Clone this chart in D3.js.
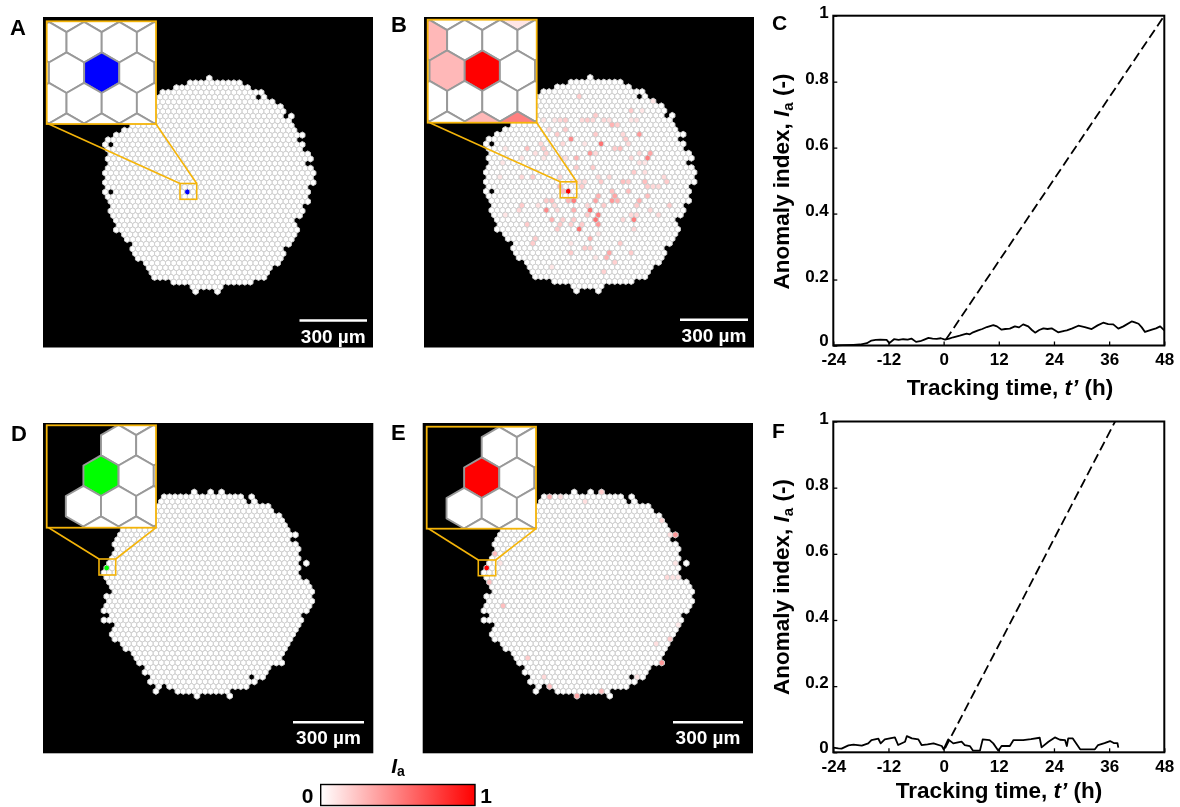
<!DOCTYPE html>
<html>
<head>
<meta charset="utf-8">
<script src="https://cdn.jsdelivr.net/npm/d3@7"></script>
<style>
  html, body { margin: 0; padding: 0; background: #fff; }
  svg { display: block; }
  text { font-family: "Liberation Sans", Arial, sans-serif; font-weight: bold; fill: #000; }
</style>
</head>
<body>
<svg id="chart" width="1180" height="807"></svg>
<script>
// ---- DATA ----
// hexagon lattice, one entry per row, each row is a list of [first column, last column] runs
const colonyAB = [
  [[4,4]], [[0,9]], [[-2,11]], [[-5,13]], [[-6,12],[14,14]], [[-6,15]], [[-6,17]], [[-7,17]], [[-7,17],[19,19]], [[-9,18]],
  [[-10,19]], [[-12,19]], [[-13,21]], [[-15,19]], [[-15,-15],[-13,21]], [[-15,20]], [[-14,22]], [[-15,22]], [[-14,21]], [[-15,22]],
  [[-15,23]], [[-15,22]], [[-15,23]], [[-15,21]], [[-15,-15],[-13,22]], [[-15,21]], [[-14,22]], [[-14,20]], [[-14,21]], [[-14,20]],
  [[-13,19]], [[-13,19]], [[-13,20]], [[-12,19]], [[-11,19]], [[-10,18]], [[-10,17]], [[-10,17]], [[-9,17]], [[-8,16]],
  [[-7,15]], [[-7,14]], [[-6,14]], [[-3,11]], [[1,6]], [[1,1],[5,5]]
];
const colonyDE = [
  [[16,16],[19,19],[21,21]], [[10,24],[26,26]], [[10,25],[27,27]], [[8,29]], [[7,30]], [[6,31]], [[5,32]], [[4,32]], [[3,33]], [[2,34]],
  [[2,33]], [[1,34]], [[2,35]], [[1,34]], [[1,35]], [[0,34],[36,36]], [[0,35]], [[-1,34]], [[0,35]], [[0,36]],
  [[1,37]], [[1,37]], [[0,37]], [[0,37]], [[0,37]], [[-1,36]], [[1,35]], [[-1,35]], [[2,35]], [[1,34]],
  [[1,34]], [[1,33]], [[3,33]], [[3,32]], [[5,32]], [[5,31]], [[6,32]], [[7,29]], [[7,29]], [[8,25],[27,28]],
  [[8,27]], [[9,9],[11,25]], [[9,9],[13,21],[22,22]], [[16,16],[22,22]]
];
const trackedAB = [24, 0];
const trackedDE = [16, 0];

// [row, column, Ia] for the cells that are tinted
const anomalyB = [
  [14,6,.55],[17,14,.5],[12,13,.4],[13,0,.45],[16,4,.4],[16,15,.35],[15,-8,.25],[28,-4,.45],[28,4,.55],[29,5,.5],
  [30,5,.55],[31,5,.4],[32,2,.55],[30,12,.5],[10,8,.3],[7,11,.2],[8,5,.2],[9,-1,.2],[9,3,.2],[17,1,.3],
  [19,1,.2],[19,4,.2],[26,8,.4],[25,5,.3],[26,5,.35],[24,11,.25],[26,13,.3],[25,14,.25],[28,1,.3],[30,-3,.3],
  [31,-8,.2],[31,-2,.2],[34,4,.3],[37,7,.35],[38,7,.3],[35,9,.2],[34,-6,.2],[35,-7,.2],[37,0,.2],[36,3,.2],
  [36,4,.18],[37,11,.2],[39,8,.18],[41,6,.18],[40,-3,.1],[38,5,.1],[27,18,.2],[22,18,.2],[21,17,.15],[22,14,.25],
  [23,14,.2],[23,16,.15],[23,15,.15],[22,11,.2],[22,10,.25],[15,8,.2],[15,9,.25],[17,11,.15],[16,13,.15],[16,5,.15],
  [14,3,.1],[4,2,.2],[5,15,.1],[7,13,.1],[12,-2,.2],[9,-3,.1],[9,-2,.15],[9,-5,.1],[11,-4,.15],[11,-1,.2],
  [9,2,.15],[9,4,.15],[9,6,.15],[9,7,.12],[9,11,.1],[9,12,.12],[10,9,.2],[12,5,.2],[12,10,.15],[13,10,.2],
  [14,11,.15],[14,-5,.15],[15,-5,.2],[16,-4,.18],[16,-6,.12],[14,-1,.15],[17,-1,.12],[17,-2,.12],[17,-5,.1],[17,-9,.1],
  [18,-12,.1],[21,-13,.1],[21,-7,.2],[21,-9,.15],[15,-12,.1],[21,-2,.15],[22,3,.15],[22,2,.12],[23,2,.2],[22,6,.2],
  [21,7,.15],[21,5,.15],[20,12,.2],[20,14,.12],[18,14,.1],[18,13,.12],[24,8,.25],[25,8,.35],[26,9,.3],[27,6,.2],
  [29,11,.15],[29,12,.15],[27,12,.2],[28,15,.15],[29,16,.15],[30,10,.15],[32,12,.15],[26,-3,.25],[26,-4,.2],[27,-6,.12],
  [27,-9,.2],[28,-9,.15],[29,-12,.1],[27,-3,.15],[28,-2,.15],[29,3,.2],[30,1,.2],[31,0,.18],[31,2,.2],[30,-1,.18],
  [32,-2,.2],[27,3,.15],[35,0,.1],[33,5,.1],[24,-1,.28],[23,-2,.28],[22,1,.1],[26,0,.28],[26,1,.5]
];
const anomalyE = [
  [1,11,.3],[1,13,.12],[2,18,.12],[6,32,.15],[9,33,.12],[9,34,.4],[15,34,.1],[18,33,.15],[18,35,.1],[18,34,.1],
  [13,1,.25],[15,2,.1],[19,0,.25],[24,3,.25],[35,7,.2],[39,10,.15],[41,11,.25],[43,16,.35],[42,21,.25],[0,21,.2],
  [32,31,.12],[31,33,.2],[36,32,.4],[39,27,.1],[28,35,.08]
];

const timeTicks = [-24, -12, 0, 12, 24, 36, 48];
const indexTicks = [0, 0.2, 0.4, 0.6, 0.8, 1];

const timeC = [-24,-22,-19.6,-18.2,-16.7,-15.7,-14.8,-13.8,-12.4,-11.8,-10.8,-9.8,-8.8,-7.8,-7,-6,-5.1,-4.2,-3.3,-2.4,-1.5,-.6,.3,1.2,2.1,3.5,5,5.7,6.4,7.5,8.4,9.4,10.8,11.6,12.6,13.4,14.4,15.5,16.4,17.3,18.4,19.2,19.9,20.8,21.7,22.6,23.5,24.9,25.8,26.8,28,29.3,30.7,32.2,33.5,34.7,35.8,36.9,38,39.1,40.9,41.6,42.4,43.1,43.8,45.3,46.2,47.1,48];
const valueC = [0,.001,.002,.003,.007,.015,.017,.018,.017,.007,.019,.017,.019,.018,.021,.011,.013,.018,.023,.021,.02,.022,.018,.021,.025,.03,.036,.034,.04,.046,.05,.056,.062,.058,.048,.05,.051,.058,.055,.064,.058,.047,.039,.047,.052,.05,.052,.04,.043,.046,.052,.06,.056,.05,.061,.069,.065,.064,.051,.058,.073,.07,.066,.055,.041,.048,.052,.058,.046];
const dashTimeC = [0.5, 48];
const dashValueC = [0.018, 1];

const timeF = [-24,-22.9,-22.2,-20.7,-19.6,-17.8,-16.4,-15.7,-14.2,-13.7,-12.8,-10.6,-9.9,-8.4,-8,-6.9,-5.5,-4.8,-3.5,-2.2,-.4,0,1,2.1,3.9,4.6,5.7,6.4,7.9,8.5,10,10.8,11.9,12.6,14.4,15.2,17.3,19,20.9,21.3,22.8,24.2,25.3,26.4,26.8,27.1,28.1,29.7,32.9,33.6,35,36.2,37,37.8,38];
const valueF = [.014,.012,.011,.021,.023,.02,.027,.037,.041,.027,.039,.045,.022,.032,.049,.042,.039,.022,.024,.027,.019,.009,.039,.027,.032,.022,.019,.005,.005,.039,.037,.027,.005,.019,.019,.037,.037,.04,.044,.015,.032,.045,.038,.037,.019,.042,.042,.009,.009,.022,.028,.034,.028,.028,.014];
const dashTimeF = [0.3, 37.3];
const dashValueF = [0.012, 1];

// ---- LAYOUT ----
const svg = d3.select('#chart');
const gold = '#f4b409';
const cellWidth = 5.47;
const rowStep = 4.74;
const insetZoom = 6.43;
const hexPath = r => d3.range(6).map(i => {
  const a = Math.PI / 3 * i + Math.PI / 6;
  return [r * Math.cos(a), r * Math.sin(a)];
});
const indexColor = d3.scaleLinear().domain([0, 1]).range(['#ffffff', '#ff0000']);
let clipCount = 0;

function drawCells(g, rows, anomalies, tracked, trackedColor, cx, cy, zoom, strokeColor, strokeWidth) {
  const colX = d3.scaleLinear().domain([tracked[1], tracked[1] + 1]).range([cx, cx + cellWidth * zoom]);
  const rowY = d3.scaleLinear().domain([tracked[0], tracked[0] + 1]).range([cy, cy + rowStep * zoom]);
  const tint = new Map(anomalies.map(a => [a[0] + '_' + a[1], a[2]]));
  const cells = [];
  rows.forEach((runs, r) => {
    runs.forEach(run => {
      d3.range(run[0], run[1] + 1).forEach(c => cells.push({ r: r, c: c }));
    });
  });
  const radius = cellWidth * zoom / Math.sqrt(3);
  const corners = hexPath(radius);
  g.selectAll('path.cell')
    .data(cells)
    .enter()
    .append('path')
    .attr('class', 'cell')
    .attr('d', 'M' + corners.join('L') + 'Z')
    .attr('transform', d => `translate(${colX(d.c + (d.r % 2) / 2)},${rowY(d.r)})`)
    .attr('fill', d => {
      if (d.r === tracked[0] && d.c === tracked[1]) return trackedColor;
      const v = tint.get(d.r + '_' + d.c);
      return v ? indexColor(v) : '#ffffff';
    })
    .attr('stroke', strokeColor)
    .attr('stroke-width', strokeWidth)
    .attr('stroke-linejoin', 'round');
}

function colonyPanel(p) {
  const g = svg.append('g');
  g.append('rect').attr('x', p.left).attr('y', p.top).attr('width', p.right - p.left).attr('height', p.bottom - p.top).attr('fill', '#000');

  drawCells(g.append('g').attr('filter', 'url(#soft)'), p.rows, p.anomalies, p.tracked, p.color, p.cell[0], p.cell[1], 1, '#d0d0d0', 1);

  // connector lines, then the small box
  g.append('line').attr('x1', p.inset[0] + 2).attr('y1', p.inset[3]).attr('x2', p.box[0]).attr('y2', p.box[1]).attr('stroke', gold).attr('stroke-width', 1.6);
  g.append('line').attr('x1', p.inset[2]).attr('y1', p.inset[3]).attr('x2', p.box[2]).attr('y2', p.box[1]).attr('stroke', gold).attr('stroke-width', 1.6);
  g.append('rect').attr('x', p.box[0]).attr('y', p.box[1]).attr('width', p.box[2] - p.box[0]).attr('height', p.box[3] - p.box[1])
    .attr('fill', 'none').attr('stroke', gold).attr('stroke-width', 1.6);

  // zoomed inset
  const id = 'clip' + (clipCount++);
  svg.append('clipPath').attr('id', id).append('rect')
    .attr('x', p.inset[0]).attr('y', p.inset[1]).attr('width', p.inset[2] - p.inset[0]).attr('height', p.inset[3] - p.inset[1]);
  g.append('rect').attr('x', p.inset[0]).attr('y', p.inset[1]).attr('width', p.inset[2] - p.inset[0]).attr('height', p.inset[3] - p.inset[1]).attr('fill', '#000');
  const ig = g.append('g').attr('clip-path', `url(#${id})`).append('g').attr('filter', 'url(#softer)');
  drawCells(ig, p.rows, p.anomalies, p.tracked, p.color, p.insetCell[0], p.insetCell[1], insetZoom, '#999999', 1.9);
  g.append('rect').attr('x', p.inset[0]).attr('y', p.inset[1]).attr('width', p.inset[2] - p.inset[0]).attr('height', p.inset[3] - p.inset[1])
    .attr('fill', 'none').attr('stroke', gold).attr('stroke-width', 1.8);

  // scale bar
  const um = d3.scaleLinear().domain([0, 300]).range([p.bar[0], p.bar[1]]);
  g.append('line').attr('x1', um(0)).attr('x2', um(300)).attr('y1', p.bar[2]).attr('y2', p.bar[2]).attr('stroke', '#fff').attr('stroke-width', 2.6);
  g.append('text').attr('x', (um(0) + um(300)) / 2).attr('y', p.bar[2] + 22).attr('text-anchor', 'middle')
    .attr('font-size', 19).style('fill', '#fff').text('300 µm');

  svg.append('text').attr('x', p.letter[0]).attr('y', p.letter[1]).attr('font-size', 22).text(p.name);
}

function linePanel(p) {
  const x = d3.scaleLinear().domain([-24, 48]).range([p.left, p.right]);
  const y = d3.scaleLinear().domain([0, 1]).range([p.bottom, p.top]);
  const g = svg.append('g');
  const line = d3.line().x(d => x(d[0])).y(d => y(d[1]));

  g.append('path').datum(d3.zip(p.dashTime, p.dashValue)).attr('d', line)
    .attr('fill', 'none').attr('stroke', '#000').attr('stroke-width', 1.8).attr('stroke-dasharray', '9.5,4.5');
  g.append('path').datum(d3.zip(p.time, p.value)).attr('d', line)
    .attr('fill', 'none').attr('stroke', '#000').attr('stroke-width', 1.8).attr('stroke-linejoin', 'round');

  const xAxis = g.append('g').attr('transform', `translate(0,${p.bottom})`)
    .call(d3.axisBottom(x).tickValues(timeTicks).tickFormat(d => String(d)).tickSize(-4).tickPadding(5));
  const yAxis = g.append('g').attr('transform', `translate(${p.left},0)`)
    .call(d3.axisLeft(y).tickValues(indexTicks).tickFormat(d => String(d)).tickSize(-4).tickPadding(4.5));
  [xAxis, yAxis].forEach(a => {
    a.select('.domain').remove();
    a.selectAll('line').attr('stroke', '#000').attr('stroke-width', 1.3);
    a.selectAll('text').attr('font-size', 17).attr('font-family', null);
  });
  xAxis.selectAll('text').attr('dy', '0.85em');
  yAxis.selectAll('text').attr('dy', d => d === 0 ? '0em' : '0.1em');

  g.append('rect').attr('x', p.left).attr('y', p.top).attr('width', p.right - p.left).attr('height', p.bottom - p.top)
    .attr('fill', 'none').attr('stroke', '#000').attr('stroke-width', 2);

  const xt = svg.append('text').attr('x', p.xTitle[0]).attr('y', p.xTitle[1]).attr('text-anchor', 'middle').attr('font-size', 22.5);
  xt.append('tspan').text('Tracking time, ');
  xt.append('tspan').attr('font-style', 'italic').text('t’');
  xt.append('tspan').text(' (h)');

  const yt = svg.append('text').attr('transform', `translate(${p.yTitle[0]},${p.yTitle[1]}) rotate(-90)`).attr('text-anchor', 'middle').attr('font-size', 22.5);
  yt.append('tspan').text('Anomaly index, ');
  yt.append('tspan').attr('font-style', 'italic').text('I');
  yt.append('tspan').attr('font-size', 15).attr('dy', 4).text('a');
  yt.append('tspan').attr('dy', -4).text(' (-)');

  svg.append('text').attr('x', p.letter[0]).attr('y', p.letter[1]).attr('font-size', 21).text(p.name);
}

// light blur, the original is a resampled bitmap
const defs = svg.append('defs');
defs.append('filter').attr('id', 'soft').attr('x', '-5%').attr('y', '-5%').attr('width', '110%').attr('height', '110%')
  .append('feGaussianBlur').attr('stdDeviation', 0.4);
defs.append('filter').attr('id', 'softer').attr('filterUnits', 'userSpaceOnUse').attr('x', 0).attr('y', 0).attr('width', 1180).attr('height', 807)
  .append('feGaussianBlur').attr('stdDeviation', 0.6);

colonyPanel({ name: 'A', letter: [10, 34.5], left: 43, right: 373, top: 17, bottom: 347.5,
  rows: colonyAB, anomalies: [], tracked: trackedAB, color: '#0000ff',
  cell: [187.4, 192], box: [180, 183.5, 196.7, 199.3], inset: [46.7, 21.3, 156, 124], insetCell: [101.7, 72.7],
  bar: [299.5, 367, 320.5] });
colonyPanel({ name: 'B', letter: [391, 32], left: 424, right: 754, top: 17, bottom: 347.5,
  rows: colonyAB, anomalies: anomalyB, tracked: trackedAB, color: '#ff0000',
  cell: [568.3, 191.3], box: [560.2, 181.8, 576.7, 197.7], inset: [427.7, 19.7, 536.7, 122.7], insetCell: [482.3, 70.7],
  bar: [680, 748, 319.7] });
colonyPanel({ name: 'D', letter: [11, 440.5], left: 43, right: 373.3, top: 423, bottom: 753.3,
  rows: colonyDE, anomalies: [], tracked: trackedDE, color: '#00ff00',
  cell: [106.7, 568], box: [99, 559, 115.7, 575], inset: [46.7, 425.3, 156, 527.7], insetCell: [101, 475.7],
  bar: [293, 364, 722.3] });
colonyPanel({ name: 'E', letter: [391, 440], left: 422.7, right: 753, top: 423, bottom: 753.3,
  rows: colonyDE, anomalies: anomalyE, tracked: trackedDE, color: '#ff0000',
  cell: [486.7, 568], box: [478.3, 560, 495.7, 575.7], inset: [426.7, 426.7, 536, 528.7], insetCell: [481.7, 477.7],
  bar: [673, 743, 722.3] });

linePanel({ name: 'C', letter: [772, 30], left: 833.3, right: 1164.3, top: 15.7, bottom: 345.5,
  time: timeC, value: valueC, dashTime: dashTimeC, dashValue: dashValueC, xTitle: [1010, 395], yTitle: [789, 181.5] });
linePanel({ name: 'F', letter: [772, 438], left: 833.3, right: 1164.3, top: 421.5, bottom: 752.3,
  time: timeF, value: valueF, dashTime: dashTimeF, dashValue: dashValueF, xTitle: [999, 798], yTitle: [789, 587] });

// colour bar
const barScale = d3.scaleLinear().domain([0, 1]).range([320.7, 475]);
const grad = defs.append('linearGradient').attr('id', 'iaGrad');
grad.selectAll('stop').data([0, 1]).enter().append('stop')
  .attr('offset', d => d * 100 + '%').attr('stop-color', d => indexColor(d));
svg.append('rect').attr('x', barScale(0)).attr('y', 784.5).attr('width', barScale(1) - barScale(0)).attr('height', 21)
  .attr('fill', 'url(#iaGrad)').attr('stroke', '#000').attr('stroke-width', 1.4);
svg.append('text').attr('x', barScale(0) - 13).attr('y', 803).attr('text-anchor', 'middle').attr('font-size', 21).text('0');
svg.append('text').attr('x', barScale(1) + 11).attr('y', 803).attr('text-anchor', 'middle').attr('font-size', 21).text('1');
const iaLabel = svg.append('text').attr('x', 398).attr('y', 773).attr('text-anchor', 'middle').attr('font-size', 21);
iaLabel.append('tspan').attr('font-style', 'italic').text('I');
iaLabel.append('tspan').attr('font-size', 14).attr('dy', 3).text('a');
</script>
</body>
</html>
